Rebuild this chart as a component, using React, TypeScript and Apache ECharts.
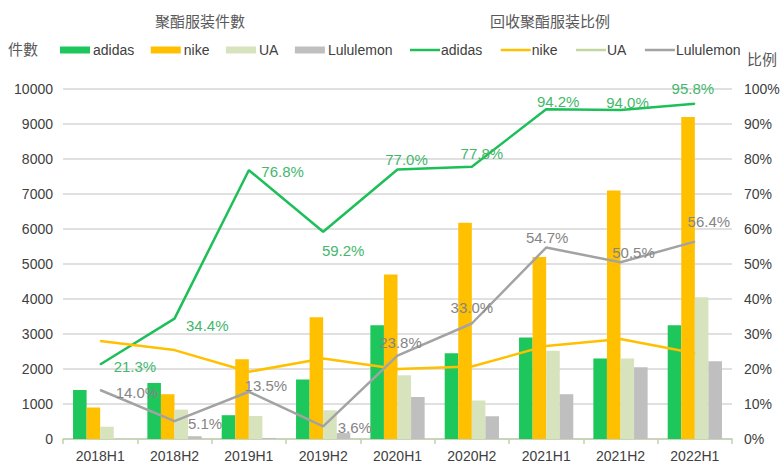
import React, { useEffect, useRef } from "react";
import * as echarts from "echarts";

// ---- data ----
const categories = ["2018H1", "2018H2", "2019H1", "2019H2", "2020H1", "2020H2", "2021H1", "2021H2", "2022H1"];

// 聚酯服装件數 (bars, left axis)
const adidasCount = [1400, 1600, 680, 1700, 3250, 2450, 2900, 2300, 3250];
const nikeCount = [900, 1280, 2280, 3480, 4700, 6180, 5200, 7100, 9200];
const uaCount = [350, 840, 660, 820, 1820, 1100, 2520, 2300, 4050];
const luluCount = [0, 80, 30, 170, 1200, 650, 1280, 2050, 2220];

// 回收聚酯服装比例 (lines, right axis, %)
const adidasRatio = [21.3, 34.4, 76.8, 59.2, 77.0, 77.8, 94.2, 94.0, 95.8];
const nikeRatio = [28.0, 25.4, 19.2, 23.0, 20.0, 20.7, 26.6, 28.6, 24.5];
const uaRatio: number[] = []; // no UA line is drawn in the reference
const luluRatio = [14.0, 5.1, 13.5, 3.6, 23.8, 33.0, 54.7, 50.5, 56.4];

const leftTicks = { min: 0, max: 10000, interval: 1000 };
const rightTicks = { min: 0, max: 100, interval: 10 };

const C = {
  adidasBar: "#1ec75c",
  nike: "#ffc000",
  ua: "#d6e3bc",
  lulu: "#bfbfbf",
  adidasLine: "#1dbf58",
  luluLine: "#a3a3a3",
  adidasLabel: "#42b86c",
  luluLabel: "#858585",
  text: "#404040",
  title: "#595959",
};

const FONT = '"Liberation Sans", Arial, "Noto Sans CJK SC", sans-serif';
const CJK = '"Noto Sans CJK SC", "Noto Sans CJK TC", sans-serif';

// label placement per point: [position, distance, offsetX, offsetY]
const adidasLabelPlace: [string, number, number, number][] = [
  ["right", 13, 0, 2],
  ["right", 11, 0, 7],
  ["right", 12, 0, 1],
  ["bottom", 11, 20, 0],
  ["top", 2, 9, 0],
  ["top", 5, 10, 0],
  ["top", 0, 12, 0],
  ["top", 0, 7, 0],
  ["top", 7, -2, 0],
];
const luluLabelPlace: [string, number, number, number][] = [
  ["right", 15, 0, 2],
  ["right", 13, 0, 2],
  ["top", 0, 17, 2],
  ["right", 14, 0, 1],
  ["top", 5, 3, 0],
  ["top", 8, 0, 0],
  ["top", 2, 1, 0],
  ["top", 2, 13, 0],
  ["top", 12, 14, 0],
];

function withLabels(values: number[], place: [string, number, number, number][]) {
  return values.map((v, i) => ({
    value: v,
    label: {
      position: place[i][0],
      distance: place[i][1],
      offset: [place[i][2], place[i][3]],
    },
  }));
}

export default function App() {
  const ref = useRef<HTMLDivElement>(null);

  useEffect(() => {
    if (!ref.current) return;
    const chart = echarts.init(ref.current, undefined, { renderer: "svg" });

    const barBase = {
      type: "bar",
      yAxisIndex: 0,
      barGap: "0%",
      barCategoryGap: "27%",
      z: 2,
    };
    const lineBase = {
      type: "line",
      yAxisIndex: 1,
      symbol: "circle",
      symbolSize: 1,
      z: 5,
    };

    const option: any = {
      animation: false,
      textStyle: { fontFamily: FONT },
      title: [
        {
          text: "聚酯服装件數",
          left: 155,
          top: 13,
          padding: 0,
          textStyle: { fontFamily: CJK, fontSize: 15, fontWeight: "normal", color: C.title },
        },
        {
          text: "回收聚酯服装比例",
          left: 490,
          top: 13,
          padding: 0,
          textStyle: { fontFamily: CJK, fontSize: 15, fontWeight: "normal", color: C.title },
        },
      ],
      graphic: [
        {
          type: "text",
          left: 8,
          top: 41,
          style: { text: "件數", fontFamily: CJK, fontSize: 15, fill: C.title },
        },
        {
          type: "text",
          left: 747,
          top: 51,
          style: { text: "比例", fontFamily: CJK, fontSize: 15, fill: C.title },
        },
      ],
      legend: [
        {
          left: 60,
          top: 43,
          padding: 0,
          itemWidth: 30,
          itemHeight: 7,
          itemGap: 16.5,
          icon: "rect",
          textStyle: { fontSize: 14, color: C.text, fontFamily: FONT, padding: [0, 0, 0, -2] },
          data: ["adidas", "nike", "UA", "Lululemon"],
        },
        {
          left: 410,
          top: 43,
          padding: 0,
          itemWidth: 30,
          itemHeight: 2.5,
          itemGap: 18.5,
          icon: "rect",
          textStyle: { fontSize: 14, color: C.text, fontFamily: FONT, padding: [0, 0, 0, -4] },
          formatter: (n: string) => n.replace("_r", ""),
          data: ["adidas_r", "nike_r", "UA_r", "Lululemon_r"],
        },
      ],
      grid: { left: 63, right: 48, top: 89, bottom: 26, outerBoundsMode: "none", containLabel: false },
      xAxis: {
        type: "category",
        data: categories,
        axisLine: { lineStyle: { color: "#c2d0ad", width: 1.5 } },
        axisTick: { show: true, length: 5, lineStyle: { color: "#c2d0ad", width: 1.5 } },
        axisLabel: { fontSize: 14, color: C.text, margin: 10, fontFamily: FONT },
      },
      yAxis: [
        {
          type: "value",
          ...leftTicks,
          axisLine: { show: false },
          axisTick: { show: false },
          axisLabel: {
            fontSize: 14,
            color: C.text,
            margin: 10,
            fontFamily: FONT,
            formatter: (v: number) => String(v),
          },
          splitLine: { lineStyle: { color: "#d6d6d6", width: 1.5 } },
        },
        {
          type: "value",
          ...rightTicks,
          position: "right",
          axisLine: { show: false },
          axisTick: { show: false },
          axisLabel: { fontSize: 14, color: C.text, margin: 12, formatter: "{value}%", fontFamily: FONT },
          splitLine: { show: false },
        },
      ],
      series: [
        { ...barBase, name: "adidas", data: adidasCount, itemStyle: { color: C.adidasBar } },
        { ...barBase, name: "nike", data: nikeCount, itemStyle: { color: C.nike } },
        { ...barBase, name: "UA", data: uaCount, itemStyle: { color: C.ua } },
        { ...barBase, name: "Lululemon", data: luluCount, itemStyle: { color: C.lulu } },
        {
          ...lineBase,
          name: "adidas_r",
          data: withLabels(adidasRatio, adidasLabelPlace),
          itemStyle: { color: C.adidasLine },
          lineStyle: { color: C.adidasLine, width: 2.5 },
          label: {
            show: true,
            formatter: (p: any) => p.value.toFixed(1) + "%",
            color: C.adidasLabel,
            fontSize: 15,
            fontFamily: FONT,
          },
        },
        {
          ...lineBase,
          name: "nike_r",
          data: nikeRatio,
          itemStyle: { color: C.nike },
          lineStyle: { color: C.nike, width: 2.5 },
        },
        {
          ...lineBase,
          name: "UA_r",
          data: uaRatio,
          itemStyle: { color: "#c4d6a0" },
          lineStyle: { color: "#c4d6a0", width: 2.5 },
        },
        {
          ...lineBase,
          name: "Lululemon_r",
          data: withLabels(luluRatio, luluLabelPlace),
          itemStyle: { color: C.luluLine },
          lineStyle: { color: C.luluLine, width: 2.5 },
          label: {
            show: true,
            formatter: (p: any) => p.value.toFixed(1) + "%",
            color: C.luluLabel,
            fontSize: 15,
            fontFamily: FONT,
          },
        },
      ],
    };

    chart.setOption(option);
    return () => chart.dispose();
  }, []);

  return (
    <div
      ref={ref}
      style={{ position: "fixed", left: 0, top: 0, width: 780, height: 465, background: "#ffffff" }}
    />
  );
}
